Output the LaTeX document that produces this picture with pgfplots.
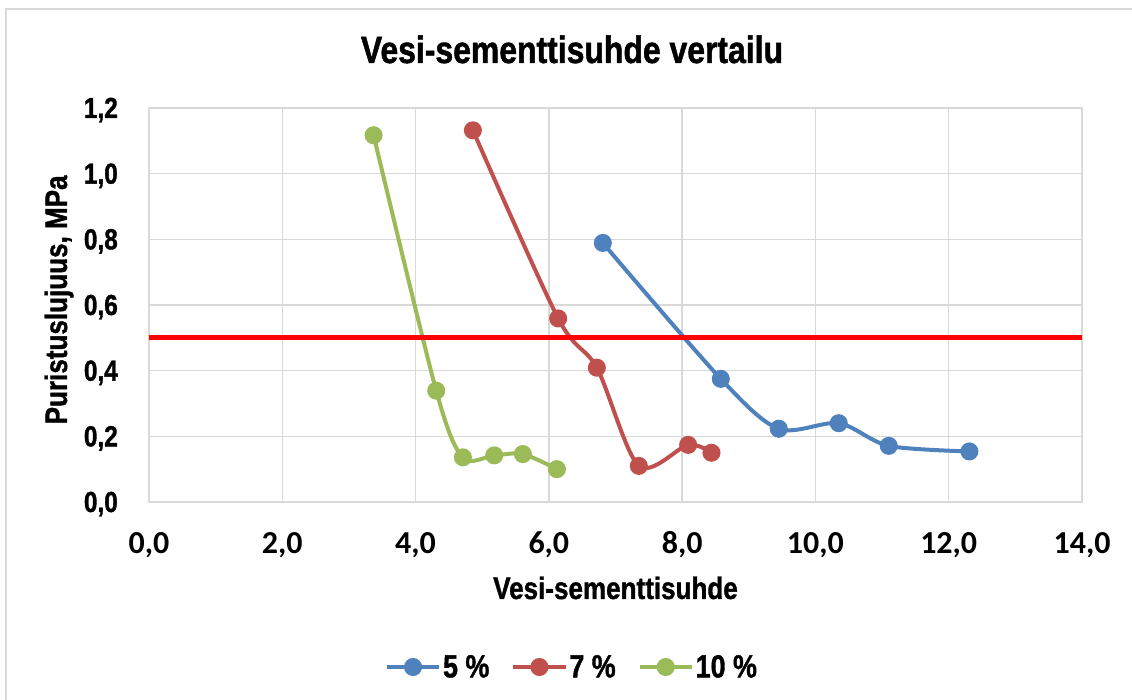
\documentclass[border=0pt]{standalone}
\usepackage{fontspec}
\setmainfont{Liberation Sans}[FakeStretch=0.84, BoldFeatures={FakeBold=1.2}]
\newfontfamily\calibri{Carlito}
\usepackage{pgfplots}
\pgfplotsset{compat=1.18}

\definecolor{s5}{HTML}{4F81BD}
\definecolor{s7}{HTML}{C0504D}
\definecolor{s10}{HTML}{9BBB59}
\definecolor{gridgray}{HTML}{D9D9D9}

\begin{document}
\begin{tikzpicture}[x=1pt,y=1pt]
\path[use as bounding box] (0,0) rectangle (1132,700);
% chart frame
\draw[gridgray, line width=1.5pt] (6,-10) -- (6,691) -- (1145,691);
\begin{axis}[
  at={(149pt,198pt)}, anchor=south west,
  scale only axis, width=933pt, height=394pt,
  xmin=0, xmax=14, ymin=0, ymax=1.2,
  xtick={0,2,4,6,8,10,12,14},
  ytick={0,0.2,0.4,0.6,0.8,1.0,1.2},
  grid=major,
  grid style={gridgray, line width=1.5pt},
  axis line style={gridgray, line width=1.5pt},
  tick style={draw=none},
  /pgf/number format/.cd, fixed, fixed zerofill, precision=1, use comma, assume math mode=true,
  /pgfplots/.cd,
  xticklabel style={font=\calibri\bfseries\fontsize{32}{32}\selectfont, anchor=base, inner sep=0pt, yshift=-52pt},
  yticklabel style={font=\bfseries\fontsize{29}{29}\selectfont, anchor=base east, inner sep=0pt, xshift=-31pt, yshift=-10pt},
  xlabel={Vesi-sementtisuhde},
  ylabel={Puristuslujuus, MPa},
  x label style={at={(axis description cs:0.5,0)}, anchor=base, inner sep=0pt, yshift=-97pt, font=\bfseries\fontsize{31}{31}\selectfont},
  % the label is turned by 90 degrees, so its own y direction points left
  y label style={at={(axis description cs:0,0.513)}, anchor=base, inner sep=0pt, yshift=82pt, font=\bfseries\fontsize{31}{31}\selectfont},
  legend columns=3,
  legend style={at={(axis description cs:0.4534,-0.4188)}, anchor=center, draw=none, fill=none,
    font=\bfseries\fontsize{32}{32}\selectfont,
    /tikz/every even column/.append style={column sep=20pt}},
  legend image code/.code={\draw[mark repeat=2, mark phase=2, #1] plot coordinates {(0pt,0pt) (26pt,0pt) (52pt,0pt)};},
  every axis plot/.append style={line width=4pt, smooth, tension=0.5},
]
\addplot[s5, mark=*, mark size=7pt, mark options={solid, fill=s5, draw=s5}] coordinates {
  (6.81,0.789) (8.58,0.375) (9.45,0.223) (10.35,0.240) (11.10,0.171) (12.31,0.154)};
\addlegendentry{5 \%}
\addplot[s7, mark=*, mark size=7pt, mark options={solid, fill=s7, draw=s7}] coordinates {
  (4.86,1.132) (6.14,0.559) (6.72,0.409) (7.35,0.110) (8.09,0.174) (8.44,0.150)};
\addlegendentry{7 \%}
\addplot[s10, mark=*, mark size=7pt, mark options={solid, fill=s10, draw=s10}] coordinates {
  (3.37,1.117) (4.31,0.339) (4.71,0.136) (5.18,0.142) (5.61,0.146) (6.12,0.100)};
\addlegendentry{10 \%}
% limit value 0,5 MPa
\addplot[red, line width=5pt, no marks, sharp plot, forget plot] coordinates {(0,0.5) (14,0.5)};
\end{axis}
\node[anchor=base, inner sep=0pt, font=\bfseries\fontsize{38}{38}\selectfont] at (572,637) {Vesi-sementtisuhde vertailu};
\end{tikzpicture}
\end{document}
